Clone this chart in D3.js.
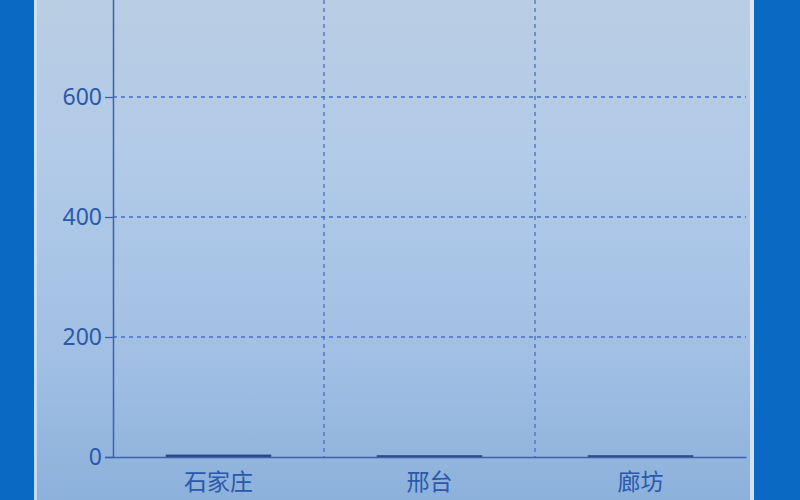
<!DOCTYPE html>
<html>
<head>
<meta charset="utf-8">
<script src="https://cdn.jsdelivr.net/npm/d3@7"></script>
<style>
  html, body { margin: 0; padding: 0; background: #0a69c2; }
  svg { display: block; }
</style>
</head>
<body>
<div id="chart"></div>
<script>
const categories = ['石家庄', '邢台', '廊坊']
const values = [4, 3, 3]
const yTicks = [0, 200, 400, 600]

const width = 800, height = 500
const margin = {top: -23, right: 54, bottom: 43, left: 113}

const svg = d3.select('#chart').append('svg')
    .attr('width', width)
    .attr('height', height)

// panel background with vertical gradient
const defs = svg.append('defs')
const grad = defs.append('linearGradient')
    .attr('id', 'panelGrad')
    .attr('x1', 0).attr('y1', 0).attr('x2', 0).attr('y2', 1)
grad.append('stop').attr('offset', '0%').attr('stop-color', '#b9cde3')
grad.append('stop').attr('offset', '30%').attr('stop-color', '#b2cbe8')
grad.append('stop').attr('offset', '70%').attr('stop-color', '#a2c0e4')
grad.append('stop').attr('offset', '100%').attr('stop-color', '#8cb1db')

svg.append('rect')
    .attr('x', 0).attr('y', 0)
    .attr('width', width).attr('height', height)
    .attr('fill', '#0a69c2')
svg.append('rect')
    .attr('x', 34).attr('y', 0)
    .attr('width', 720).attr('height', height)
    .attr('fill', 'url(#panelGrad)')
svg.append('rect')
    .attr('x', 34).attr('y', 0)
    .attr('width', 3).attr('height', height)
    .attr('fill', '#dce8f4').attr('opacity', 0.7)
svg.append('rect')
    .attr('x', 750).attr('y', 0)
    .attr('width', 4).attr('height', height)
    .attr('fill', '#e4eef8').attr('opacity', 0.8)

const x = d3.scaleBand()
    .domain(categories)
    .range([margin.left, width - margin.right])
    .paddingInner(0.5)
    .paddingOuter(0.25)

const y = d3.scaleLinear()
    .domain([0, 800])
    .range([height - margin.bottom, margin.top])

const step = x.step()
const gridColor = '#4870c0'
const axisColor = '#3a62ae'
const textColor = '#2a59ab'

// horizontal grid lines
svg.append('g')
    .selectAll('line')
    .data(yTicks.filter(d => d > 0))
    .join('line')
    .attr('x1', margin.left)
    .attr('x2', width - margin.right)
    .attr('y1', d => y(d))
    .attr('y2', d => y(d))
    .attr('stroke', gridColor)
    .attr('stroke-width', 1.3)
    .attr('stroke-dasharray', '4,4')

// vertical grid lines between categories
svg.append('g')
    .selectAll('line')
    .data(categories.slice(1))
    .join('line')
    .attr('x1', d => x(d) - step * 0.25)
    .attr('x2', d => x(d) - step * 0.25)
    .attr('y1', 0)
    .attr('y2', y(0))
    .attr('stroke', gridColor)
    .attr('stroke-width', 1.3)
    .attr('stroke-dasharray', '4,4')

// bars
svg.append('g')
    .selectAll('rect')
    .data(categories)
    .join('rect')
    .attr('x', d => x(d))
    .attr('width', x.bandwidth())
    .attr('y', (d, i) => y(values[i]))
    .attr('height', (d, i) => y(0) - y(values[i]))
    .attr('fill', '#27477f')

// y axis
const yAxis = svg.append('g')
    .attr('transform', `translate(${margin.left},0)`)
    .call(d3.axisLeft(y).tickValues(yTicks).tickSize(8).tickPadding(3))
yAxis.select('.domain').attr('stroke', axisColor).attr('stroke-width', 1.5)
yAxis.selectAll('.tick line').attr('stroke', axisColor).attr('stroke-width', 1.3)
yAxis.selectAll('.tick text')
    .attr('fill', textColor)
    .style('font-family', '"Noto Sans", "Open Sans", sans-serif')
    .style('font-size', '23px')

// x axis
const xAxis = svg.append('g')
    .attr('transform', `translate(0,${y(0)})`)
    .call(d3.axisBottom(x).tickSize(0).tickPadding(17))
xAxis.select('.domain').attr('stroke', axisColor).attr('stroke-width', 1.5)
xAxis.selectAll('.tick text')
    .attr('fill', textColor)
    .style('font-family', '"Noto Sans CJK SC", sans-serif')
    .style('font-size', '23px')
</script>
</body>
</html>
